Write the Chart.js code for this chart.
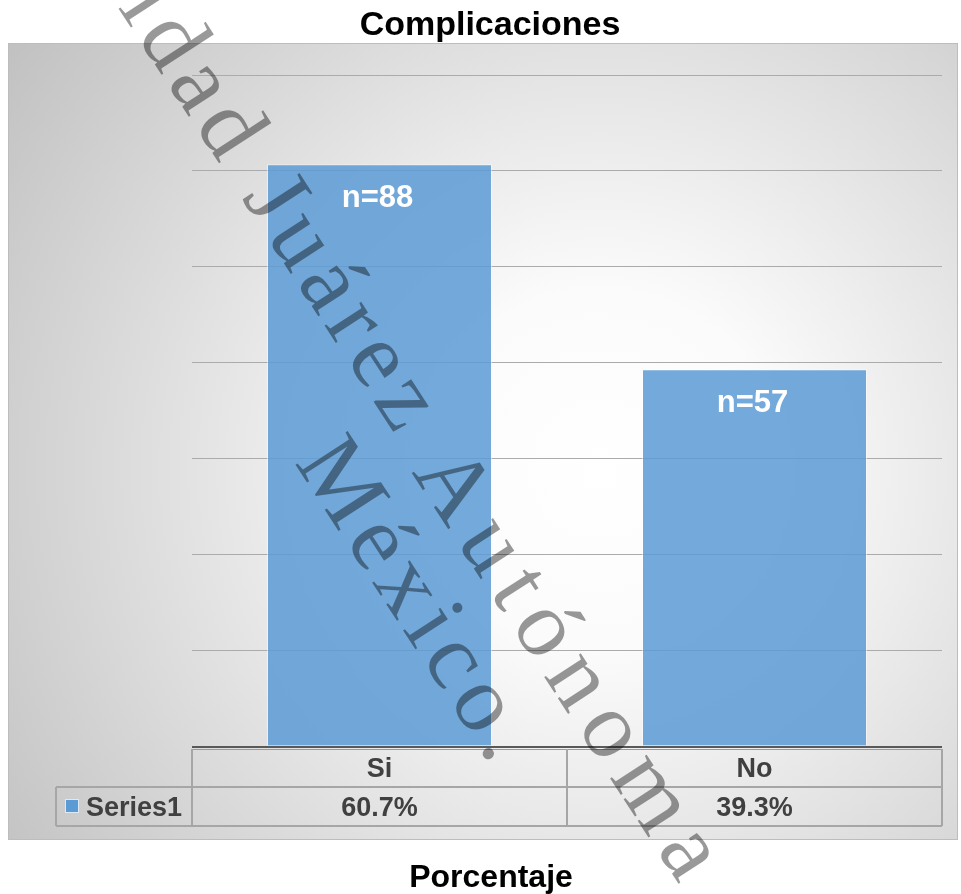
<!DOCTYPE html>
<html>
<head>
<meta charset="utf-8">
<script src="https://cdn.jsdelivr.net/npm/chart.js@4.4.0/dist/chart.umd.min.js"></script>
<style>
  body { margin: 0; background: #ffffff; }
  canvas { display: block; }
</style>
</head>
<body>
<canvas id="complicaciones_chart" width="961" height="894"></canvas>
<script>
// data
const categories = ['Si', 'No'];
const percentages = [60.7, 39.3];
const n_labels = ['n=88', 'n=57'];
const series_name = 'Series1';
const y_ticks = [0, 10, 20, 30, 40, 50, 60, 70];

const chart_title = 'Complicaciones';
const axis_title = 'Porcentaje';
const watermark_words = ['Universidad Juárez', 'Autónoma', 'México.'];

const bar_color = 'rgba(91,155,213,0.85)';
const text_color = '#404040';

// gray panel behind the plot
const panel_plugin = {
  id: 'panel',
  beforeDraw(chart) {
    const ctx = chart.ctx;
    ctx.save();
    ctx.fillStyle = '#ffffff';
    ctx.fillRect(0, 0, chart.width, chart.height);
    const g = ctx.createRadialGradient(600, 470, 0, 600, 470, 720);
    g.addColorStop(0, '#ffffff');
    g.addColorStop(0.25, '#fbfbfb');
    g.addColorStop(1, '#c2c2c2');
    ctx.fillStyle = g;
    ctx.fillRect(8, 43, 950, 797);
    ctx.strokeStyle = '#bdbdbd';
    ctx.lineWidth = 1;
    ctx.strokeRect(8.5, 43.5, 949, 796);
    ctx.restore();
  }
};

// title, n labels, data table, axis title
const extras_plugin = {
  id: 'extras',
  afterDatasetsDraw(chart) {
    const ctx = chart.ctx;
    const area = chart.chartArea;
    const meta = chart.getDatasetMeta(0);
    ctx.save();

    ctx.fillStyle = '#000000';
    ctx.textAlign = 'center';
    ctx.textBaseline = 'alphabetic';
    ctx.font = 'bold 34px "Liberation Sans", Arial, sans-serif';
    ctx.fillText(chart_title, 490, 35);

    // n labels inside bars
    ctx.fillStyle = '#ffffff';
    ctx.font = 'bold 31px "Liberation Sans", Arial, sans-serif';
    meta.data.forEach(function(bar, i) {
      ctx.fillText(n_labels[i], bar.x - 2, bar.y + 43);
    });

    // axis line (double)
    ctx.strokeStyle = '#595959';
    ctx.lineWidth = 2;
    ctx.beginPath();
    ctx.moveTo(area.left, area.bottom + 1);
    ctx.lineTo(area.right, area.bottom + 1);
    ctx.stroke();
    ctx.strokeStyle = '#9a9a9a';
    ctx.lineWidth = 1;
    ctx.beginPath();
    ctx.moveTo(area.left, area.bottom + 3.5);
    ctx.lineTo(area.right, area.bottom + 3.5);
    ctx.stroke();

    // data table
    const row1_top = area.bottom + 3;
    const row2_top = 787;
    const row2_bottom = 826;
    const label_left = 56;
    const col_w = (area.right - area.left) / categories.length;
    ctx.strokeStyle = '#a6a6a6';
    ctx.lineWidth = 2;
    ctx.beginPath();
    for (let i = 0; i <= categories.length; i++) {
      const x = area.left + i * col_w;
      ctx.moveTo(x, row1_top);
      ctx.lineTo(x, row2_bottom);
    }
    ctx.moveTo(label_left, row2_top);
    ctx.lineTo(label_left, row2_bottom);
    ctx.moveTo(label_left, row2_top);
    ctx.lineTo(area.right, row2_top);
    ctx.moveTo(label_left, row2_bottom);
    ctx.lineTo(area.right, row2_bottom);
    ctx.stroke();

    ctx.fillStyle = text_color;
    ctx.font = 'bold 27px "Liberation Sans", Arial, sans-serif';
    ctx.textAlign = 'center';
    for (let i = 0; i < categories.length; i++) {
      const cx = area.left + (i + 0.5) * col_w;
      ctx.fillText(categories[i], cx, 777);
      ctx.fillText(percentages[i].toFixed(1) + '%', cx, 816);
    }
    ctx.textAlign = 'left';
    ctx.fillText(series_name, 86, 816);
    ctx.fillStyle = '#5b9bd5';
    ctx.fillRect(65, 799, 14, 14);
    ctx.strokeStyle = '#dde9f5';
    ctx.lineWidth = 1;
    ctx.strokeRect(65.5, 799.5, 13, 13);

    // axis title under the panel
    ctx.fillStyle = '#000000';
    ctx.textAlign = 'center';
    ctx.font = 'bold 32px "Liberation Sans", Arial, sans-serif';
    ctx.fillText(axis_title, 491, 887);
    ctx.restore();
  },
  afterDraw(chart) {
    // watermark over everything, "Univer" runs off the top edge
    const ctx = chart.ctx;
    ctx.save();
    ctx.translate(101, 0);
    ctx.rotate(57 * Math.PI / 180);
    ctx.fillStyle = 'rgba(0,0,0,0.4)';
    ctx.font = '95px "Liberation Serif", "Times New Roman", serif';
    ctx.textAlign = 'left';
    ctx.textBaseline = 'alphabetic';
    ctx.letterSpacing = '8px';
    ctx.fillText(watermark_words[0], -ctx.measureText('Univer').width - 30, -10);
    ctx.fillText(watermark_words[2], 493, 90);
    ctx.letterSpacing = '13px';
    ctx.fillText(watermark_words[1], 565, -3);
    ctx.restore();
  }
};

const data = {
  labels: categories,
  datasets: [{
    label: series_name,
    data: percentages,
    backgroundColor: bar_color,
    borderColor: 'rgba(255,255,255,0.45)',
    borderWidth: 1,
    barPercentage: 0.6,
    categoryPercentage: 1.0
  }]
};

const config = {
  type: 'bar',
  data,
  options: {
    responsive: false,
    animation: false,
    devicePixelRatio: 1,
    layout: {
      padding: { left: 192, right: 19, top: 75, bottom: 148 }
    },
    plugins: {
      legend: { display: false },
      title: { display: false },
      tooltip: { enabled: false }
    },
    scales: {
      x: { display: false },
      y: {
        min: y_ticks[0],
        max: y_ticks[y_ticks.length - 1],
        afterBuildTicks: function(axis) {
          axis.ticks = y_ticks.map(v => ({ value: v }));
        },
        ticks: { display: false },
        border: { display: false },
        grid: { color: '#ababab', lineWidth: 1, drawTicks: false }
      }
    }
  },
  plugins: [panel_plugin, extras_plugin]
};

const complicaciones_chart = new Chart(document.getElementById('complicaciones_chart'), config);
</script>
</body>
</html>
